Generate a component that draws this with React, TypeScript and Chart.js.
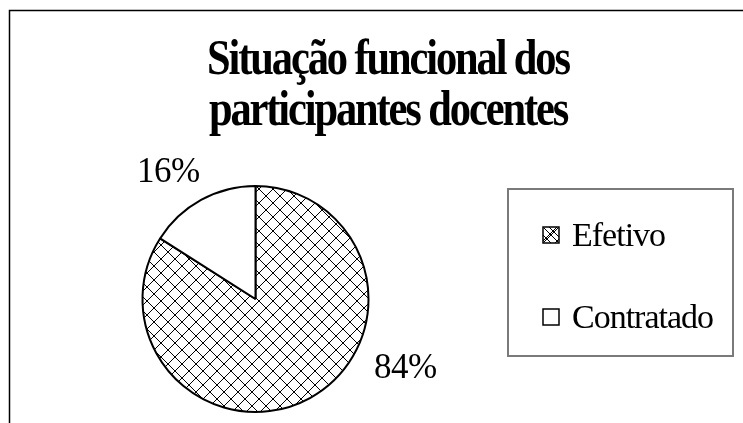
import { useEffect, useRef } from 'react';
import { Chart, ArcElement, PieController } from 'chart.js';

Chart.register(ArcElement, PieController);

const categories = ['Efetivo', 'Contratado'];
const values = [84, 16];
const valueLabels = ['84%', '16%'];
const titleLines = ['Situação funcional dos', 'participantes docentes'];

const SERIF = "'Liberation Serif', 'Times New Roman', serif";

function makeHatch(ctx: CanvasRenderingContext2D, P: number): CanvasPattern | string {
  const c = document.createElement('canvas');
  c.width = P;
  c.height = P;
  const g = c.getContext('2d');
  if (!g) return '#fff';
  g.fillStyle = '#fff';
  g.fillRect(0, 0, P, P);
  g.fillStyle = '#000';
  for (let i = 0; i < P; i++) {
    g.fillRect(i, i, 1, 1);
    g.fillRect(P - 1 - i, i, 1, 1);
  }
  return ctx.createPattern(c, 'repeat') || '#fff';
}

const labelPlacement = [
  { frac: 0.377, extra: 51 },
  { frac: 0.41, extra: 43 },
];

const decor = {
  id: 'decor',
  beforeDraw(chart: any) {
    const ctx: CanvasRenderingContext2D = chart.ctx;
    ctx.save();
    ctx.fillStyle = '#fff';
    ctx.fillRect(0, 0, chart.width, chart.height);
    ctx.strokeStyle = '#000';
    ctx.lineWidth = 1.5;
    ctx.beginPath();
    ctx.moveTo(9.5, chart.height + 5);
    ctx.lineTo(9.5, 10.5);
    ctx.lineTo(chart.width + 5, 10.5);
    ctx.stroke();
    ctx.restore();
  },
  afterDraw(chart: any) {
    const ctx: CanvasRenderingContext2D = chart.ctx;
    ctx.save();
    // title (condensed bold serif)
    ctx.fillStyle = '#000';
    ctx.font = `bold 50px ${SERIF}`;
    (ctx as any).letterSpacing = '-2.5px';
    ctx.textAlign = 'center';
    ctx.textBaseline = 'alphabetic';
    const sx = 0.85;
    ctx.save();
    ctx.translate(388, 0);
    ctx.scale(sx, 1);
    ctx.fillText(titleLines[0], 0, 74);
    ctx.fillText(titleLines[1], 0, 125);
    ctx.restore();
    (ctx as any).letterSpacing = '0px';

    // value labels
    const meta = chart.getDatasetMeta(0);
    ctx.font = `35px ${SERIF}`;
    (ctx as any).letterSpacing = '-0.5px';
    meta.data.forEach((arc: any, i: number) => {
      const p = labelPlacement[i];
      const a = arc.startAngle + p.frac * (arc.endAngle - arc.startAngle);
      const d = arc.outerRadius + p.extra;
      const x = arc.x + Math.cos(a) * d;
      const y = arc.y + Math.sin(a) * d;
      ctx.fillText(valueLabels[i], x, y + 12);
    });

    // legend
    const lx = 508, ly = 189, lw = 225, lh = 167;
    ctx.strokeStyle = '#7a7a7a';
    ctx.lineWidth = 2;
    ctx.strokeRect(lx, ly, lw, lh);
    ctx.font = `34px ${SERIF}`;
    (ctx as any).letterSpacing = '-1px';
    ctx.textAlign = 'left';
    const bg = chart.data.datasets[0].backgroundColor;
    const rows = [235, 317];
    categories.forEach((name, i) => {
      const cy = rows[i];
      ctx.fillStyle = bg[i];
      ctx.fillRect(543, cy - 8, 16, 16);
      ctx.strokeStyle = '#000';
      ctx.lineWidth = 1.5;
      ctx.strokeRect(543, cy - 8, 16, 16);
      if (i === 0) {
        ctx.lineWidth = 1;
        ctx.beginPath();
        ctx.moveTo(544, cy - 7);
        ctx.lineTo(558, cy + 7);
        ctx.moveTo(558, cy - 7);
        ctx.lineTo(544, cy + 7);
        ctx.stroke();
      }
      ctx.fillStyle = '#000';
      ctx.fillText(name, 572, cy + 11);
    });
    ctx.restore();
  },
};

export default function App() {
  const ref = useRef<HTMLCanvasElement | null>(null);
  useEffect(() => {
    const canvas = ref.current;
    if (!canvas) return;
    const ctx = canvas.getContext('2d');
    if (!ctx) return;
    const hatch = makeHatch(ctx, 14);
    const chart = new Chart(canvas, {
      type: 'pie',
      data: {
        labels: categories,
        datasets: [
          {
            data: values,
            backgroundColor: [hatch, '#ffffff'] as any,
            borderColor: '#000',
            borderWidth: 2,
            radius: 113,
          } as any,
        ],
      },
      options: {
        animation: false,
        responsive: false,
        devicePixelRatio: 1,
        events: [],
        layout: { padding: { left: 130, right: 362, top: 180, bottom: 5 } },
        plugins: {
          legend: { display: false },
          title: { display: false },
          tooltip: { enabled: false },
        },
      } as any,
      plugins: [decor],
    });
    return () => chart.destroy();
  }, []);
  return (
    <div style={{ position: 'absolute', left: 0, top: 0, width: 743, height: 423 }}>
      <canvas ref={ref} width={743} height={423} />
    </div>
  );
}
